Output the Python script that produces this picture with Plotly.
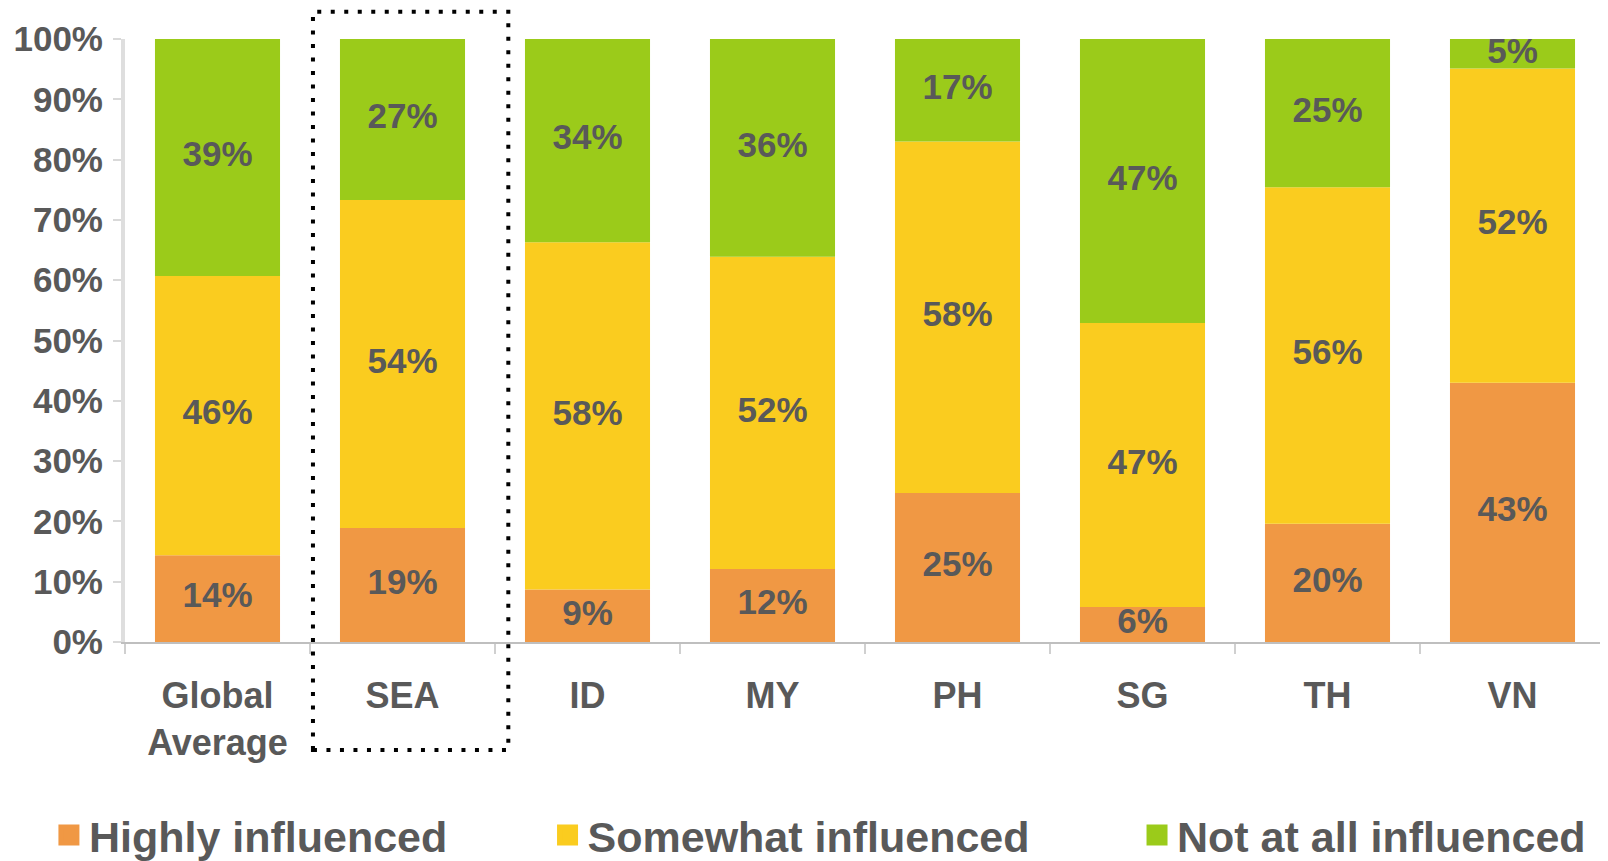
import plotly.graph_objects as go

categories = ["Global<br>Average", "SEA", "ID", "MY", "PH", "SG", "TH", "VN"]
highly = [14.4, 18.9, 8.7, 12.1, 24.7, 5.8, 19.6, 43.0]
somewhat = [46.3, 54.4, 57.6, 51.8, 58.3, 47.1, 55.8, 52.1]
not_at_all = [39.3, 26.7, 33.7, 36.1, 17.0, 47.1, 24.6, 4.9]
series_names = ["Highly influenced", "Somewhat influenced", "Not at all influenced"]
colors = ["#F09844", "#FACC1F", "#9BCB1A"]
y_tick_vals = list(range(0, 101, 10))
y_tick_text = [f"{v}%" for v in y_tick_vals]

FONT = "Liberation Sans, Arial, sans-serif"
GRAY = "#595959"

series = [highly, somewhat, not_at_all]
fig = go.Figure()

base = [0.0] * len(categories)
for name, vals, col in zip(series_names, series, colors):
    fig.add_trace(go.Bar(
        x=categories, y=vals, base=base, name=name,
        marker=dict(color=col, line=dict(width=0)),
        showlegend=False, textposition="none",
    ))
    mids = [b + v / 2 for b, v in zip(base, vals)]
    fig.add_trace(go.Scatter(
        x=categories, y=mids, mode="text",
        text=[f"{v:.0f}%" for v in vals],
        textposition="middle center",
        textfont=dict(family=FONT, size=35, color=GRAY, weight="bold"),
        showlegend=False, hoverinfo="skip",
    ))
    base = [b + v for b, v in zip(base, vals)]

# legend proxies, one legend each for precise placement
legend_ids = ["legend", "legend2", "legend3"]
legend_x = [-0.0514, 0.2855, 0.6838]
for name, col, lid in zip(series_names, colors, legend_ids):
    fig.add_trace(go.Scatter(
        x=[None], y=[None], mode="markers", name=name,
        marker=dict(symbol="square", size=16, color=col, line=dict(color=col, width=5)),
        legend=lid, showlegend=True,
    ))

legend_common = dict(
    orientation="h", yanchor="middle", y=-0.320, xanchor="left",
    font=dict(family=FONT, size=43, color=GRAY, weight="bold"),
    bgcolor="rgba(0,0,0,0)", borderwidth=0,
)

fig.update_layout(
    width=1600, height=853,
    margin=dict(l=117, r=3, t=31, b=219, autoexpand=False),
    paper_bgcolor="white", plot_bgcolor="white",
    barmode="overlay", bargap=0.324,
    font=dict(family=FONT, color=GRAY, weight="bold"),
    legend=dict(x=legend_x[0], **legend_common),
    legend2=dict(x=legend_x[1], **legend_common),
    legend3=dict(x=legend_x[2], **legend_common),
    xaxis=dict(
        type="category", showgrid=False, zeroline=False, automargin=False,
        showline=True, linecolor="#bfbfbf", linewidth=2,
        ticks="outside", tickson="boundaries", ticklen=10, tickcolor="#d0d0d0", tickwidth=2,
        tickfont=dict(family=FONT, size=36, color=GRAY, weight="bold"),
        ticklabelstandoff=21,
    ),
    yaxis=dict(
        range=[0, 100], showgrid=False, zeroline=False, automargin=False,
        showline=True, linecolor="#dedede", linewidth=4,
        ticks="outside", ticklen=8, tickcolor="#d9d9d9", tickwidth=2,
        tickvals=y_tick_vals, ticktext=y_tick_text,
        tickfont=dict(family=FONT, size=35, color=GRAY, weight="bold"),
        ticklabelstandoff=3,
    ),
    shapes=[dict(
        type="rect", xref="paper", yref="paper",
        x0=0.127, x1=0.259, y0=-0.179, y1=1.045,
        line=dict(color="black", width=4, dash="4px,9.5px"),
        fillcolor="rgba(0,0,0,0)", layer="above",
    )],
)

fig.write_html("out.html")
